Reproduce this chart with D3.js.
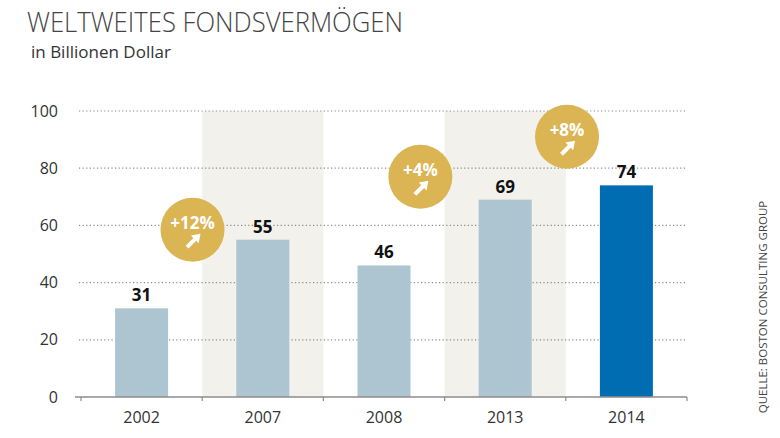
<!DOCTYPE html>
<html>
<head>
<meta charset="utf-8">
<script src="https://cdn.jsdelivr.net/npm/d3@7"></script>
<style>
  body { margin: 0; background: #fff; }
  svg { display: block; font-family: "Open Sans", sans-serif; }
</style>
</head>
<body>
<svg id="chart" width="780" height="438"></svg>
<script>
// data
const years = ["2002", "2007", "2008", "2013", "2014"];
const values = [31, 55, 46, 69, 74];
const shadedYears = ["2007", "2013"];
const yTicks = [0, 20, 40, 60, 80, 100];
// growth bubbles: label, position in band slots, height in data units
const growthLabels = ["+12%", "+4%", "+8%"];
const growthSlot = [0.92, 2.8, 4.01];
const growthLevel = [58.5, 77, 91];

const svg = d3.select("#chart");
const margin = { left: 81, right: 93, top: 111, bottom: 41 };
const width = +svg.attr("width"), height = +svg.attr("height");

const x = d3.scaleBand().domain(years)
  .range([margin.left, width - margin.right])
  .paddingInner(0).paddingOuter(0);
const y = d3.scaleLinear().domain([0, 100])
  .range([height - margin.bottom, margin.top]);
const slot = d3.scaleLinear().domain([0, years.length])
  .range([margin.left, width - margin.right]);

// shaded columns
svg.append("g")
  .selectAll("rect")
  .data(shadedYears)
  .join("rect")
  .attr("x", d => x(d))
  .attr("y", y(100))
  .attr("width", x.bandwidth())
  .attr("height", y(0) - y(100))
  .style("fill", "#f2f1ec");

// dotted gridlines
svg.append("g")
  .selectAll("line")
  .data(yTicks.filter(d => d > 0))
  .join("line")
  .attr("x1", margin.left - 2)
  .attr("x2", width - margin.right - 2)
  .attr("y1", d => y(d))
  .attr("y2", d => y(d))
  .style("stroke", "#8a8a8a")
  .style("stroke-width", 1.2)
  .style("stroke-dasharray", "1.2,2.4");

// y labels
svg.append("g")
  .selectAll("text")
  .data(yTicks)
  .join("text")
  .attr("x", 58)
  .attr("y", d => y(d))
  .attr("dy", "0.35em")
  .attr("text-anchor", "end")
  .style("font-size", "16px")
  .style("fill", "#333")
  .text(d => d);

// bars
const barW = 53;
svg.append("g")
  .selectAll("rect")
  .data(values)
  .join("rect")
  .attr("x", (d, i) => x(years[i]) + x.bandwidth() / 2 - barW / 2)
  .attr("y", d => y(d))
  .attr("width", barW)
  .attr("height", d => y(0) - y(d))
  .style("fill", (d, i) => i === values.length - 1 ? "#006db3" : "#adc4d1");

// value labels
svg.append("g")
  .selectAll("text")
  .data(values)
  .join("text")
  .attr("x", (d, i) => x(years[i]) + x.bandwidth() / 2)
  .attr("y", d => y(d) - 7)
  .attr("text-anchor", "middle")
  .style("font-size", "17px")
  .style("font-weight", "bold")
  .style("fill", "#111")
  .text(d => d);

// x axis
const axis = svg.append("g");
axis.append("line")
  .attr("x1", margin.left - 6)
  .attr("x2", width - margin.right)
  .attr("y1", y(0))
  .attr("y2", y(0))
  .style("stroke", "#8c8c8c")
  .style("stroke-width", 1.3);
axis.selectAll(".tick")
  .data(d3.range(years.length + 1))
  .join("line")
  .attr("class", "tick")
  .attr("x1", d => slot(d))
  .attr("x2", d => slot(d))
  .attr("y1", y(0))
  .attr("y2", y(0) + 4)
  .style("stroke", "#8c8c8c")
  .style("stroke-width", 1.2);
axis.selectAll("text")
  .data(years)
  .join("text")
  .attr("x", d => x(d) + x.bandwidth() / 2)
  .attr("y", y(0) + 26)
  .attr("text-anchor", "middle")
  .style("font-size", "16px")
  .style("fill", "#333")
  .text(d => d);

// growth bubbles
const bubble = svg.append("g")
  .selectAll("g")
  .data(growthLabels)
  .join("g")
  .attr("transform", (d, i) => `translate(${slot(growthSlot[i])},${y(growthLevel[i])})`);
bubble.append("circle")
  .attr("r", 32)
  .style("fill", "#dbb454");
bubble.append("text")
  .attr("y", -1)
  .attr("text-anchor", "middle")
  .style("font-size", "17px")
  .style("font-weight", "bold")
  .style("fill", "#fff")
  .text(d => d);
bubble.append("path")
  .attr("d", "M8,4 L6.2,13.6 L3.8,11.1 L-4.1,18.9 L-6.9,16.1 L0.9,8.3 L-1.6,5.8 Z")
  .style("fill", "#fff");

// title
svg.append("text")
  .attr("x", 27)
  .attr("y", 32)
  .attr("textLength", 376)
  .attr("lengthAdjust", "spacingAndGlyphs")
  .style("font-size", "27px")
  .style("font-weight", 300)
  .style("fill", "#444")
  .text("WELTWEITES FONDSVERMÖGEN");
svg.append("text")
  .attr("x", 31)
  .attr("y", 58)
  .style("font-size", "17px")
  .style("fill", "#333")
  .text("in Billionen Dollar");

// source
svg.append("text")
  .attr("transform", "translate(767,307) rotate(-90)")
  .attr("text-anchor", "middle")
  .style("font-size", "11.5px")
  .style("fill", "#444")
  .text("QUELLE: BOSTON CONSULTING GROUP");
</script>
</body>
</html>
